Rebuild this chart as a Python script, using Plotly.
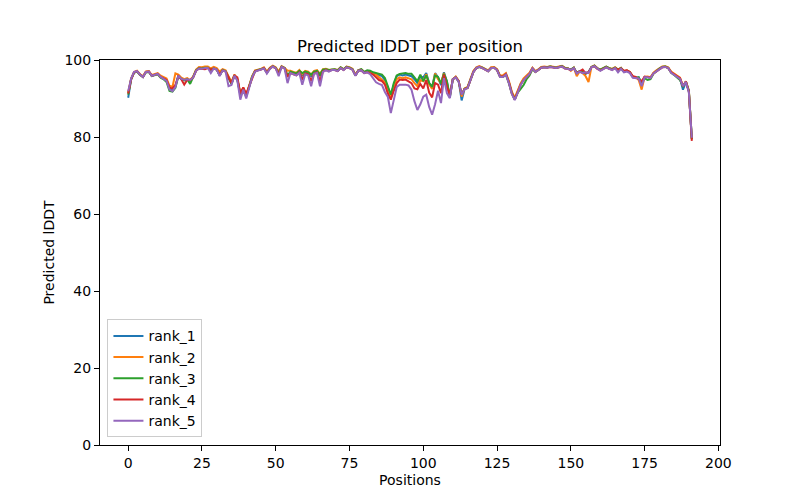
import plotly.graph_objects as go

positions = list(range(192))

rank_1 = [
    90.2, 95.0, 96.8, 97.1, 96.2, 95.6, 96.9, 97.0, 95.9, 96.2,
    96.4, 95.6, 95.3, 94.8, 92.6, 92.3, 93.2, 96.0, 95.2, 94.9,
    95.1, 94.6, 95.5, 97.3, 97.9, 97.8, 98.0, 98.0, 97.4, 97.9,
    97.6, 96.0, 97.4, 97.1, 95.5, 93.8, 96.0, 94.8, 91.0, 92.6,
    90.6, 93.0, 95.6, 97.1, 97.3, 97.5, 97.9, 96.7, 97.8, 98.4,
    97.9, 96.6, 98.3, 97.9, 95.8, 96.8, 96.5, 96.3, 97.0, 96.0,
    96.8, 96.6, 95.8, 96.8, 97.0, 96.0, 97.3, 97.5, 97.2, 97.5,
    97.5, 97.2, 98.0, 97.5, 98.2, 98.0, 97.6, 96.0, 97.3, 97.5,
    96.7, 97.0, 96.9, 96.6, 96.3, 96.0, 95.8, 94.8, 92.5, 90.8,
    93.5, 95.8, 96.2, 96.0, 96.2, 96.0, 95.8, 95.0, 94.0, 95.6,
    95.5, 96.6, 94.0, 93.0, 96.6, 95.5, 93.5, 96.8, 94.5, 90.2,
    95.0, 95.6, 94.5, 89.5, 92.5, 92.8, 95.2, 97.0, 98.0, 98.3,
    98.0, 97.7, 97.2, 98.0, 98.1, 97.5, 95.8, 95.8, 96.4, 94.3,
    91.5, 89.8, 91.9, 93.8, 95.0, 95.8, 96.5, 97.9, 97.0, 97.5,
    98.1, 98.2, 98.1, 98.3, 98.2, 98.0, 98.2, 98.4, 97.9, 97.8,
    97.5, 98.0, 96.6, 97.1, 96.8, 96.4, 96.8, 98.2, 98.5, 97.8,
    97.4, 97.8, 98.2, 97.8, 97.6, 98.0, 97.4, 97.9, 97.0, 97.2,
    96.8, 95.6, 95.4, 95.5, 93.8, 95.6, 95.6, 95.4, 96.6, 97.2,
    97.8, 98.2, 98.3, 98.0, 96.8, 96.3, 95.8, 95.2, 92.3, 94.3,
    91.8, 79.5,
]

rank_2 = [
    91.5, 95.2, 96.9, 97.2, 96.3, 95.8, 97.0, 97.1, 96.1, 96.4,
    96.6, 95.9, 95.6, 95.2, 93.3, 93.0, 96.5, 96.2, 95.4, 95.0,
    95.3, 94.8, 95.7, 97.5, 98.2, 98.1, 98.3, 98.3, 97.8, 98.2,
    97.9, 97.0, 97.6, 97.3, 95.8, 94.3, 96.2, 95.0, 91.3, 92.8,
    90.9, 93.2, 95.8, 97.3, 97.5, 97.7, 98.1, 97.0, 98.0, 98.5,
    98.1, 97.0, 98.4, 98.0, 97.2, 97.2, 96.9, 96.7, 97.4, 96.4,
    97.2, 97.0, 96.2, 97.2, 97.4, 96.4, 97.6, 97.7, 97.4, 97.6,
    97.6, 97.4, 98.1, 97.6, 98.3, 98.1, 97.7, 96.2, 97.4, 97.6,
    96.9, 97.1, 96.9, 96.6, 96.2, 95.6, 95.0, 94.2, 92.0, 90.3,
    93.0, 95.0, 95.5, 95.3, 95.5, 95.2, 95.0, 94.0, 93.2, 94.8,
    94.5, 96.3, 93.6, 92.5, 96.5, 95.0, 94.0, 96.6, 94.0, 90.5,
    95.0, 95.7, 94.6, 90.5, 92.6, 93.0, 95.4, 97.2, 98.1, 98.4,
    98.1, 97.8, 97.3, 98.1, 98.2, 97.6, 96.0, 96.0, 96.6, 94.6,
    91.8, 90.2, 92.2, 93.9, 95.2, 96.0, 96.7, 98.0, 97.1, 97.6,
    98.2, 98.3, 98.2, 98.4, 98.3, 98.1, 98.3, 98.5, 98.0, 97.9,
    97.2, 98.0, 95.8, 97.0, 96.6, 95.8, 94.3, 98.2, 98.6, 97.9,
    97.5, 97.9, 98.3, 97.9, 97.7, 98.1, 97.5, 98.0, 97.1, 97.3,
    96.9, 95.7, 95.5, 94.8, 92.3, 95.6, 95.7, 95.5, 96.7, 97.3,
    97.9, 98.3, 98.4, 98.1, 97.0, 96.5, 96.0, 95.4, 93.2, 94.5,
    92.0, 79.6,
]

rank_3 = [
    91.0, 95.0, 96.7, 97.0, 96.1, 95.6, 96.8, 96.9, 95.8, 96.1,
    96.3, 95.4, 95.0, 94.3, 92.0, 91.8, 92.8, 95.8, 95.0, 94.7,
    95.0, 93.8, 95.4, 97.3, 97.9, 97.8, 98.0, 98.0, 97.4, 97.8,
    97.5, 96.0, 97.4, 97.1, 95.4, 93.8, 96.0, 95.0, 91.0, 92.6,
    90.6, 93.0, 95.6, 97.1, 97.3, 97.5, 97.9, 96.7, 97.8, 98.4,
    97.9, 96.6, 98.3, 97.9, 96.0, 97.0, 96.7, 96.5, 97.2, 96.6,
    97.0, 96.8, 96.2, 97.0, 97.2, 96.2, 97.5, 97.6, 97.4, 97.6,
    97.6, 97.3, 98.1, 97.6, 98.2, 98.0, 97.6, 96.0, 97.3, 97.6,
    96.9, 97.3, 97.2, 96.8, 96.6, 96.4, 96.2, 95.3, 93.0, 91.0,
    94.0, 96.0, 96.4, 96.5, 96.6, 96.4, 96.4, 95.5, 94.5, 96.2,
    94.5, 96.0, 94.0, 93.0, 96.0, 95.6, 93.9, 96.4, 94.5, 90.6,
    95.0, 95.5, 94.4, 91.0, 92.5, 92.8, 95.0, 96.9, 97.9, 98.2,
    98.0, 97.6, 97.1, 97.9, 98.0, 97.4, 95.7, 95.6, 96.2, 94.0,
    91.3, 89.8, 91.5, 92.5, 93.5, 95.0, 96.0, 97.6, 96.9, 97.4,
    98.0, 98.2, 98.1, 98.3, 98.2, 98.0, 98.2, 98.4, 97.9, 97.8,
    97.5, 98.0, 96.6, 97.1, 96.9, 96.5, 96.8, 98.2, 98.5, 97.8,
    97.5, 97.9, 98.3, 97.9, 97.6, 98.0, 97.5, 97.9, 97.0, 97.2,
    96.8, 95.6, 95.4, 95.5, 94.0, 95.3, 94.8, 95.0, 96.4, 97.1,
    97.8, 98.2, 98.3, 97.9, 96.7, 96.1, 95.5, 94.8, 93.2, 94.3,
    92.0, 79.4,
]

rank_4 = [
    91.3, 95.0, 96.8, 97.1, 96.2, 95.6, 96.9, 97.0, 95.9, 96.2,
    96.4, 95.6, 95.3, 94.8, 92.8, 92.6, 93.5, 95.8, 95.0, 93.6,
    94.8, 94.8, 95.4, 97.2, 97.8, 97.7, 97.6, 97.9, 97.5, 97.8,
    97.5, 96.2, 97.3, 97.0, 95.4, 94.0, 96.0, 95.5, 91.3, 92.9,
    91.2, 93.2, 95.6, 97.1, 97.3, 97.5, 97.9, 96.7, 97.8, 98.3,
    97.8, 96.4, 98.2, 97.8, 95.6, 96.6, 96.3, 96.0, 96.8, 94.9,
    96.5, 96.3, 94.5, 96.5, 96.8, 94.5, 97.0, 97.4, 97.1, 97.4,
    97.4, 97.1, 97.9, 97.4, 98.1, 97.9, 97.5, 96.0, 97.2, 97.3,
    96.6, 96.8, 96.6, 96.2, 95.5, 94.8, 94.5, 93.6, 91.3, 89.7,
    92.0, 94.0, 94.9, 94.8, 94.9, 94.5, 94.0, 92.6, 92.4, 93.8,
    92.6, 94.8, 91.5, 90.3, 94.0, 93.6, 91.4, 96.2, 93.0, 91.0,
    95.0, 95.5, 94.5, 91.0, 92.5, 92.7, 95.1, 96.9, 97.9, 98.2,
    97.9, 97.6, 97.1, 97.9, 98.0, 97.4, 95.7, 95.7, 96.3, 94.2,
    91.4, 89.7, 91.8, 93.6, 94.8, 95.7, 96.4, 97.8, 96.9, 97.4,
    98.0, 98.1, 98.0, 98.2, 98.1, 97.9, 98.1, 98.3, 97.8, 97.7,
    97.4, 97.9, 96.6, 97.1, 97.5, 96.6, 96.8, 98.1, 98.4, 97.7,
    97.3, 97.7, 98.1, 97.7, 97.5, 97.9, 97.5, 97.8, 97.2, 97.3,
    96.9, 95.8, 95.6, 95.0, 94.5, 95.7, 95.6, 95.4, 96.5, 97.1,
    97.7, 98.1, 98.2, 97.9, 96.8, 96.3, 95.8, 95.3, 93.2, 94.4,
    91.8, 79.0,
]

rank_5 = [
    91.9, 95.2, 96.9, 97.1, 96.2, 95.6, 96.9, 97.0, 95.9, 96.2,
    96.4, 95.6, 95.2, 94.6, 92.3, 91.9, 93.0, 95.9, 95.1, 94.9,
    95.0, 94.8, 95.4, 97.2, 97.8, 97.7, 97.9, 97.9, 96.6, 97.8,
    97.5, 95.8, 97.3, 97.0, 93.2, 93.5, 95.9, 94.6, 89.7, 92.3,
    90.0, 92.8, 95.5, 97.0, 97.2, 97.4, 97.8, 96.5, 97.7, 98.3,
    97.8, 95.8, 98.2, 97.8, 94.0, 96.6, 96.3, 96.0, 96.6, 93.6,
    96.3, 96.0, 93.2, 96.4, 96.6, 93.2, 96.9, 97.3, 97.0, 97.4,
    97.4, 97.1, 97.9, 97.4, 98.1, 97.9, 97.5, 95.9, 97.2, 97.3,
    96.6, 96.8, 96.3, 95.2, 94.2, 93.8, 93.5, 91.7, 90.4, 86.2,
    90.0, 93.0, 93.6, 93.6, 93.6, 93.4, 92.3, 89.3, 87.0, 88.5,
    90.5, 91.0, 87.8, 85.8, 88.5, 92.0, 88.8, 95.3, 91.4, 90.1,
    95.0, 95.5, 94.4, 91.0, 92.4, 92.7, 95.0, 96.9, 97.9, 98.2,
    97.9, 97.6, 97.1, 97.9, 98.0, 97.4, 95.6, 95.6, 96.2, 94.0,
    91.2, 89.6, 91.7, 93.5, 94.8, 95.7, 96.4, 97.8, 96.9, 97.4,
    98.0, 98.1, 98.0, 98.2, 98.1, 97.9, 98.1, 98.3, 97.8, 97.7,
    97.4, 97.9, 96.5, 97.0, 96.6, 96.8, 96.6, 98.1, 98.4, 97.7,
    97.2, 97.6, 98.1, 97.7, 97.4, 97.9, 96.8, 97.7, 96.8, 97.0,
    96.6, 95.4, 95.2, 95.2, 93.2, 95.5, 95.5, 95.3, 96.5, 97.1,
    97.7, 98.1, 98.2, 97.9, 96.7, 96.2, 95.7, 95.1, 93.2, 94.3,
    91.6, 79.8,
]

series_names = ["rank_1", "rank_2", "rank_3", "rank_4", "rank_5"]
series_values = [rank_1, rank_2, rank_3, rank_4, rank_5]
colors = ["#1f77b4", "#ff7f0e", "#2ca02c", "#d62728", "#9467bd"]

x_ticks = [0, 25, 50, 75, 100, 125, 150, 175, 200]
y_ticks = [0, 20, 40, 60, 80, 100]

fig = go.Figure()
for name, vals, col in zip(series_names, series_values, colors):
    fig.add_trace(go.Scatter(x=positions, y=vals, mode="lines", name=name,
                             line=dict(color=col, width=2)))

font = "DejaVu Sans, sans-serif"
axis_common = dict(showgrid=False, zeroline=False, showline=True, linecolor="black",
                   linewidth=1, mirror=True, ticks="outside", ticklen=5, tickwidth=1,
                   tickcolor="black", tickfont=dict(family=font, size=14, color="black"))

W, H = 792, 492
n = len(positions) - 1
pad = n * 0.05
fig.update_layout(
    width=W, height=H,
    paper_bgcolor="white", plot_bgcolor="white",
    margin=dict(l=92, r=80, t=52, b=55),
    title=dict(text="Predicted lDDT per position", x=(92 + 310) / W, xanchor="center",
               y=1 - 38 / H, yanchor="middle",
               font=dict(family=font, size=16.5, color="black")),
    xaxis=dict(range=[-pad, n + pad], tickvals=x_ticks,
               title=dict(text="Positions", font=dict(family=font, size=14, color="black"), standoff=5),
               **axis_common),
    yaxis=dict(range=[0, 100], tickvals=y_ticks,
               title=dict(text="Predicted lDDT", font=dict(family=font, size=14, color="black"), standoff=6),
               **axis_common),
    legend=dict(x=0.012, y=0.02, xanchor="left", yanchor="bottom",
                bgcolor="rgba(255,255,255,0.8)", bordercolor="#cccccc", borderwidth=1,
                font=dict(family=font, size=14, color="black"), tracegroupgap=0,
                itemwidth=30),
    showlegend=True,
)

fig.write_html("out.html")
